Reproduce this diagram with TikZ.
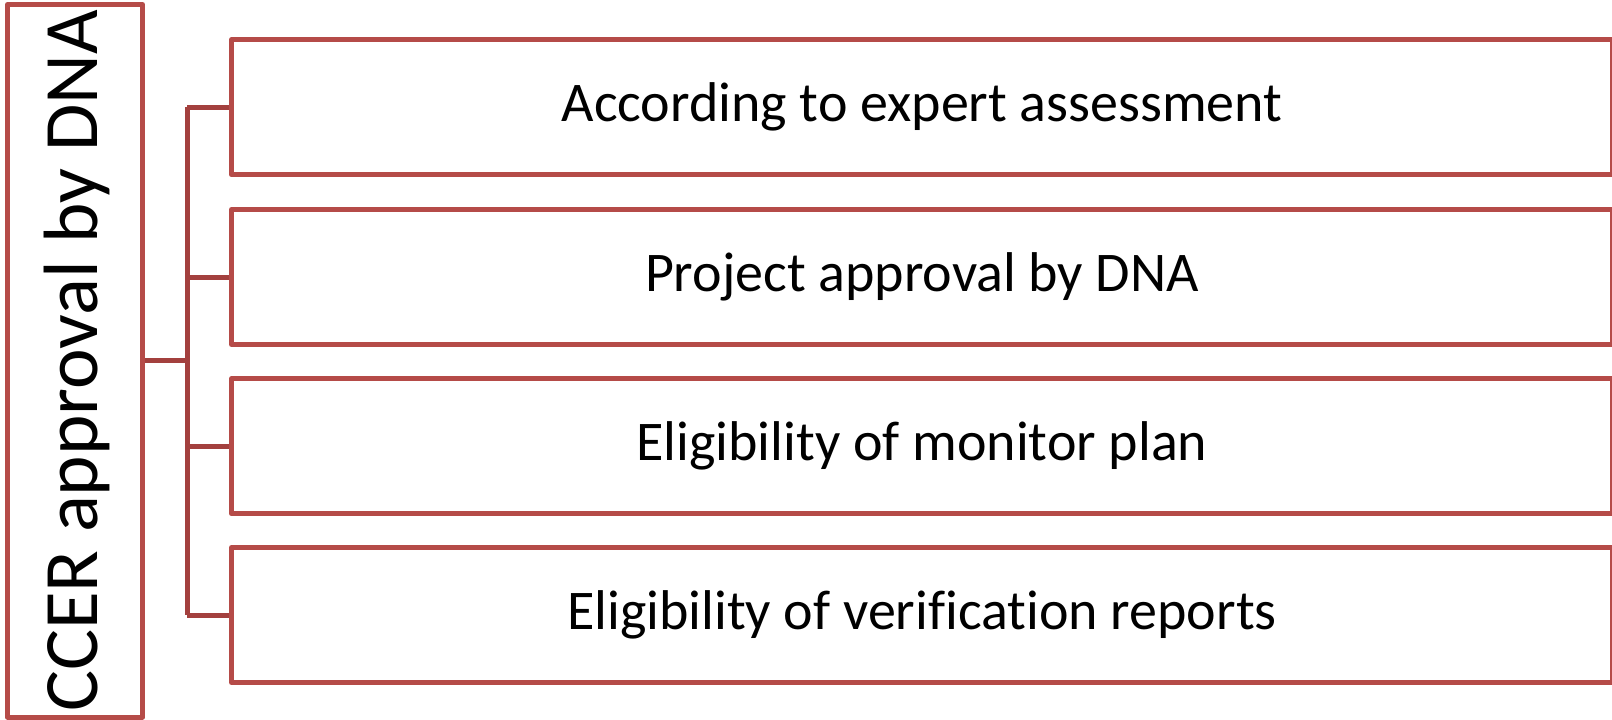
\documentclass[tikz,border=0pt]{standalone}
\usepackage{fontspec}
\setmainfont{Carlito}[Ligatures=NoCommon]
\definecolor{boxred}{HTML}{B54B48}
\definecolor{linkred}{HTML}{A3403E}
\begin{document}
\begin{tikzpicture}[x=1pt,y=-1pt,
  itembox/.style={draw=boxred, line width=5pt, line join=round, fill=white,
    minimum width=1381pt, minimum height=135pt, inner sep=0pt,
    font=\fontsize{56}{67}\selectfont, text=black},
  mainbox/.style={draw=boxred, line width=5pt, line join=round, fill=white,
    minimum width=135pt, minimum height=712.5pt, inner sep=0pt},
  link/.style={draw=linkred, line width=5pt}]
\useasboundingbox (0,0) rectangle (1612,720);
\node[mainbox] (m) at (75,360.75) {};
\node[rotate=90, font=\fontsize{77}{92}\selectfont] (mt) at (77,360.75) {CCER approval by DNA};
\node[itembox] (b1) at (922,107.25) {According to expert assessment};
\node[itembox] (b2) at (922,277) {Project approval by DNA};
\node[itembox] (b3) at (922,446.25) {Eligibility of monitor plan};
\node[itembox] (b4) at (922,615) {Eligibility of verification reports};
\coordinate (j) at (187,360.75);
\coordinate (jt) at (187,107.25);
\coordinate (jb) at (187,615);
\draw[link] (m.east) -- (j);
\draw[link] (jt) -- (jb);
\draw[link] (jt) -- (b1.west);
\draw[link] (187,277) -- (b2.west);
\draw[link] (187,446.25) -- (b3.west);
\draw[link] (jb) -- (b4.west);
\end{tikzpicture}
\end{document}
